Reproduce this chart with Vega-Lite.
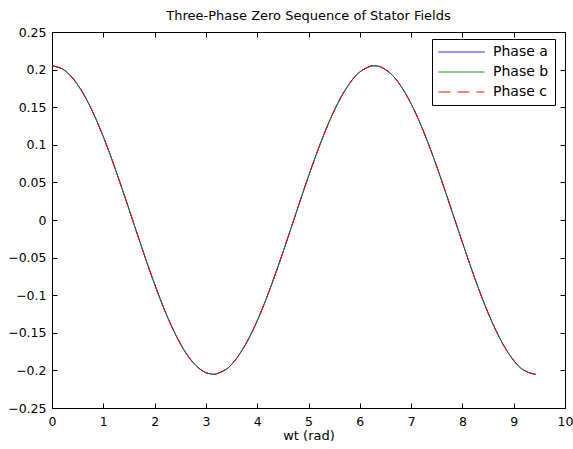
{
  "$schema": "https://vega.github.io/schema/vega-lite/v6.json",
  "autosize": {"type": "none"},
  "padding": {"left": 52, "top": 32, "right": 8, "bottom": 41},
  "width": 513,
  "height": 376,
  "background": "white",
  "title": {"text": "Three-Phase Zero Sequence of Stator Fields", "font": "DejaVu Sans", "fontSize": 13, "fontWeight": "normal", "color": "black", "offset": 3},
  "config": {
    "view": {"stroke": "black", "strokeWidth": 1},
    "axis": {"grid": false, "domainColor": "black", "tickColor": "black", "labelColor": "black", "titleColor": "black", "labelFont": "DejaVu Sans", "titleFont": "DejaVu Sans", "labelFontSize": 12.5, "titleFontSize": 13, "titleFontWeight": "normal", "tickSize": -5, "domainWidth": 1, "tickWidth": 1}
  },
  "data": {"values": [
    {"x": 0, "a": 0.205, "b": 0.205, "c": 0.205},
    {"x": 0.2, "a": 0.20091, "b": 0.20091, "c": 0.20091},
    {"x": 0.4, "a": 0.18882, "b": 0.18882, "c": 0.18882},
    {"x": 0.6, "a": 0.16919, "b": 0.16919, "c": 0.16919},
    {"x": 0.8, "a": 0.14283, "b": 0.14283, "c": 0.14283},
    {"x": 1.0, "a": 0.11076, "b": 0.11076, "c": 0.11076},
    {"x": 1.2, "a": 0.07428, "b": 0.07428, "c": 0.07428},
    {"x": 1.4, "a": 0.03484, "b": 0.03484, "c": 0.03484},
    {"x": 1.6, "a": -0.00599, "b": -0.00599, "c": -0.00599},
    {"x": 1.8, "a": -0.04658, "b": -0.04658, "c": -0.04658},
    {"x": 2.0, "a": -0.08531, "b": -0.08531, "c": -0.08531},
    {"x": 2.2, "a": -0.12064, "b": -0.12064, "c": -0.12064},
    {"x": 2.4, "a": -0.15117, "b": -0.15117, "c": -0.15117},
    {"x": 2.6, "a": -0.17566, "b": -0.17566, "c": -0.17566},
    {"x": 2.8, "a": -0.19315, "b": -0.19315, "c": -0.19315},
    {"x": 3.0, "a": -0.20295, "b": -0.20295, "c": -0.20295},
    {"x": 3.14, "a": -0.205, "b": -0.205, "c": -0.205},
    {"x": 3.2, "a": -0.20465, "b": -0.20465, "c": -0.20465},
    {"x": 3.4, "a": -0.19819, "b": -0.19819, "c": -0.19819},
    {"x": 3.6, "a": -0.18384, "b": -0.18384, "c": -0.18384},
    {"x": 3.8, "a": -0.16215, "b": -0.16215, "c": -0.16215},
    {"x": 4.0, "a": -0.134, "b": -0.134, "c": -0.134},
    {"x": 4.2, "a": -0.1005, "b": -0.1005, "c": -0.1005},
    {"x": 4.4, "a": -0.063, "b": -0.063, "c": -0.063},
    {"x": 4.6, "a": -0.02299, "b": -0.02299, "c": -0.02299},
    {"x": 4.8, "a": 0.01794, "b": 0.01794, "c": 0.01794},
    {"x": 5.0, "a": 0.05815, "b": 0.05815, "c": 0.05815},
    {"x": 5.2, "a": 0.09605, "b": 0.09605, "c": 0.09605},
    {"x": 5.4, "a": 0.13011, "b": 0.13011, "c": 0.13011},
    {"x": 5.6, "a": 0.15899, "b": 0.15899, "c": 0.15899},
    {"x": 5.8, "a": 0.18153, "b": 0.18153, "c": 0.18153},
    {"x": 6.0, "a": 0.19683, "b": 0.19683, "c": 0.19683},
    {"x": 6.2, "a": 0.20429, "b": 0.20429, "c": 0.20429},
    {"x": 6.28, "a": 0.205, "b": 0.205, "c": 0.205},
    {"x": 6.4, "a": 0.2036, "b": 0.2036, "c": 0.2036},
    {"x": 6.6, "a": 0.1948, "b": 0.1948, "c": 0.1948},
    {"x": 6.8, "a": 0.17822, "b": 0.17822, "c": 0.17822},
    {"x": 7.0, "a": 0.15455, "b": 0.15455, "c": 0.15455},
    {"x": 7.2, "a": 0.12471, "b": 0.12471, "c": 0.12471},
    {"x": 7.4, "a": 0.08989, "b": 0.08989, "c": 0.08989},
    {"x": 7.6, "a": 0.05144, "b": 0.05144, "c": 0.05144},
    {"x": 7.8, "a": 0.01091, "b": 0.01091, "c": 0.01091},
    {"x": 8.0, "a": -0.02983, "b": -0.02983, "c": -0.02983},
    {"x": 8.2, "a": -0.06953, "b": -0.06953, "c": -0.06953},
    {"x": 8.4, "a": -0.10645, "b": -0.10645, "c": -0.10645},
    {"x": 8.6, "a": -0.13903, "b": -0.13903, "c": -0.13903},
    {"x": 8.8, "a": -0.16624, "b": -0.16624, "c": -0.16624},
    {"x": 9.0, "a": -0.18678, "b": -0.18678, "c": -0.18678},
    {"x": 9.2, "a": -0.19984, "b": -0.19984, "c": -0.19984},
    {"x": 9.4, "a": -0.20497, "b": -0.20497, "c": -0.20497},
    {"x": 9.42, "a": -0.205, "b": -0.205, "c": -0.205}
  ]},
  "transform": [{"fold": ["a", "b", "c"], "as": ["key", "value"]}, {"lookup": "key", "from": {"data": {"values": [{"key": "a", "phase": "Phase a", "ord": 0}, {"key": "b", "phase": "Phase b", "ord": 1}, {"key": "c", "phase": "Phase c", "ord": 2}]}, "key": "key", "fields": ["phase", "ord"]}}],
  "layer": [
    {
      "mark": {"type": "line", "strokeWidth": 1, "interpolate": "natural", "clip": true},
      "encoding": {
        "x": {"field": "x", "type": "quantitative", "scale": {"domain": [0, 10], "nice": false, "zero": false}, "axis": {"title": "wt (rad)", "values": [0,1,2,3,4,5,6,7,8,9,10], "labelPadding": 12, "titlePadding": 2, "labelFlush": false}},
        "y": {"field": "value", "type": "quantitative", "scale": {"domain": [-0.25, 0.25], "nice": false, "zero": false}, "axis": {"title": null, "values": [-0.25,-0.2,-0.15,-0.1,-0.05,0,0.05,0.1,0.15,0.2,0.25], "labelPadding": 11, "labelExpr": "datum.value == 0 ? '0' : format(datum.value, '.2~f')"}},
        "color": {"field": "phase", "type": "nominal", "scale": {"domain": ["Phase a", "Phase b", "Phase c"], "range": ["#0000ff", "#008000", "#ff0000"]}, "legend": {"title": null, "orient": "none", "legendX": 380, "legendY": 7, "strokeColor": "black", "fillColor": "white", "padding": 6, "symbolType": "M-1.3,0H7.9", "symbolSize": 100, "symbolStrokeWidth": 1, "rowPadding": 6, "labelFont": "DejaVu Sans", "labelFontSize": 14, "labelColor": "black", "labelOffset": 41,
          "encode": {"symbols": {"update": {"stroke": {"scale": "color", "field": "value"}, "strokeDash": {"scale": "strokeDash", "field": "value"}, "fill": {"value": "transparent"}, "opacity": {"value": 1}}}}}},
        "strokeDash": {"field": "phase", "type": "nominal", "scale": {"domain": ["Phase a", "Phase b", "Phase c"], "range": [[1, 0], [1, 0], [12, 7]]}},
        "order": {"field": "ord", "type": "quantitative"}
      }
    },
    {
      "mark": {"type": "rule", "opacity": 0},
      "encoding": {
        "x": {"datum": 0, "type": "quantitative", "scale": {"domain": [0, 10], "nice": false, "zero": false}, "axis": {"orient": "top", "title": null, "labels": false, "values": [0,1,2,3,4,5,6,7,8,9,10], "domain": false}},
        "y": {"datum": 0, "type": "quantitative", "scale": {"domain": [-0.25, 0.25], "nice": false, "zero": false}, "axis": {"orient": "right", "title": null, "labels": false, "values": [-0.25,-0.2,-0.15,-0.1,-0.05,0,0.05,0.1,0.15,0.2,0.25], "domain": false}}
      }
    }
  ],
  "resolve": {"axis": {"x": "independent", "y": "independent"}}
}
